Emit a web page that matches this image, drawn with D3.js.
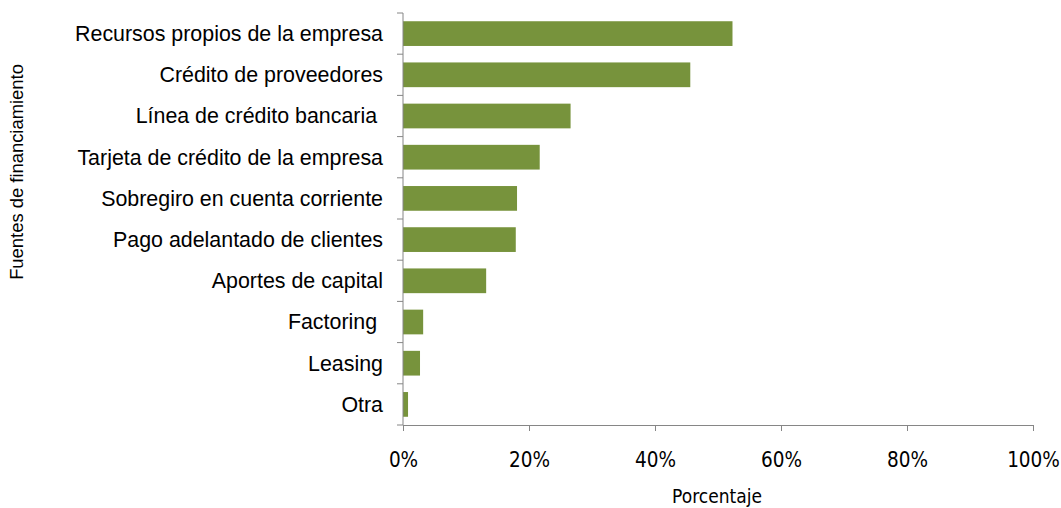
<!DOCTYPE html>
<html><head><meta charset="utf-8">
<script src="https://cdn.jsdelivr.net/npm/d3@7"></script>
<style>body{margin:0;background:#fff}text{white-space:pre}</style>
</head><body>
<svg id="c" width="1061" height="508"></svg>
<script>
const categories = ["Recursos propios de la empresa","Crédito de proveedores","Línea de crédito bancaria ","Tarjeta de crédito de la empresa","Sobregiro en cuenta corriente","Pago adelantado de clientes","Aportes de capital","Factoring ","Leasing","Otra"];
const values = [52.3,45.6,26.6,21.7,18.1,17.9,13.2,3.2,2.7,0.8];
const xTicks = [0,20,40,60,80,100];

const svg = d3.select("#c");
const m = {l:403, r:1033, t:13, b:425};
const x = d3.scaleLinear().domain([0,100]).range([m.l,m.r]);
const y = d3.scaleBand().domain(categories).range([m.t,m.b]).paddingInner(0.4).paddingOuter(0.2);
const axisColor = "#868686";

svg.append("g").selectAll("rect").data(values).join("rect")
  .attr("x", x(0)).attr("y",(d,i)=>y(categories[i]))
  .attr("width", d=>x(d)-x(0)).attr("height", y.bandwidth())
  .attr("fill","#77933C");

// y axis
const gy = svg.append("g");
gy.append("line").attr("x1",m.l).attr("x2",m.l).attr("y1",m.t).attr("y2",m.b).attr("stroke",axisColor);
const step = (m.b-m.t)/categories.length;
d3.range(categories.length+1).forEach(i=>{
  gy.append("line").attr("x1",m.l-6).attr("x2",m.l).attr("y1",m.t+i*step).attr("y2",m.t+i*step).attr("stroke",axisColor);
});
gy.selectAll("text").data(categories).join("text")
  .attr("x",383).attr("y",d=>y(d)+y.bandwidth()/2).attr("dy","0.35em")
  .attr("text-anchor","end").attr("font-family","Liberation Sans, Arial").attr("font-size",21.4).attr("fill","#000")
  .text(d=>d);

// x axis
const xAxis = d3.axisBottom(x).tickValues(xTicks).tickSize(6).tickPadding(21).tickFormat(d=>d+"%");
const gx = svg.append("g").attr("transform",`translate(0,${m.b})`).call(xAxis);
gx.select(".domain").attr("stroke",axisColor).attr("d",`M${m.l},0.5H${m.r}`);
gx.selectAll(".tick line").attr("stroke",axisColor);
gx.selectAll(".tick text").attr("font-family","DejaVu Sans Condensed, DejaVu Sans").attr("font-size",20.5).attr("fill","#000");

svg.append("text").attr("x",717).attr("y",503).attr("text-anchor","middle")
  .attr("font-family","DejaVu Sans Condensed, DejaVu Sans").attr("font-size",19).text("Porcentaje");
svg.append("text").attr("transform","translate(17,172) rotate(-90)").attr("dy","0.35em").attr("text-anchor","middle")
  .attr("font-family","Liberation Sans, Arial").attr("font-size",18.4).text("Fuentes de financiamiento");
</script>
</body></html>
